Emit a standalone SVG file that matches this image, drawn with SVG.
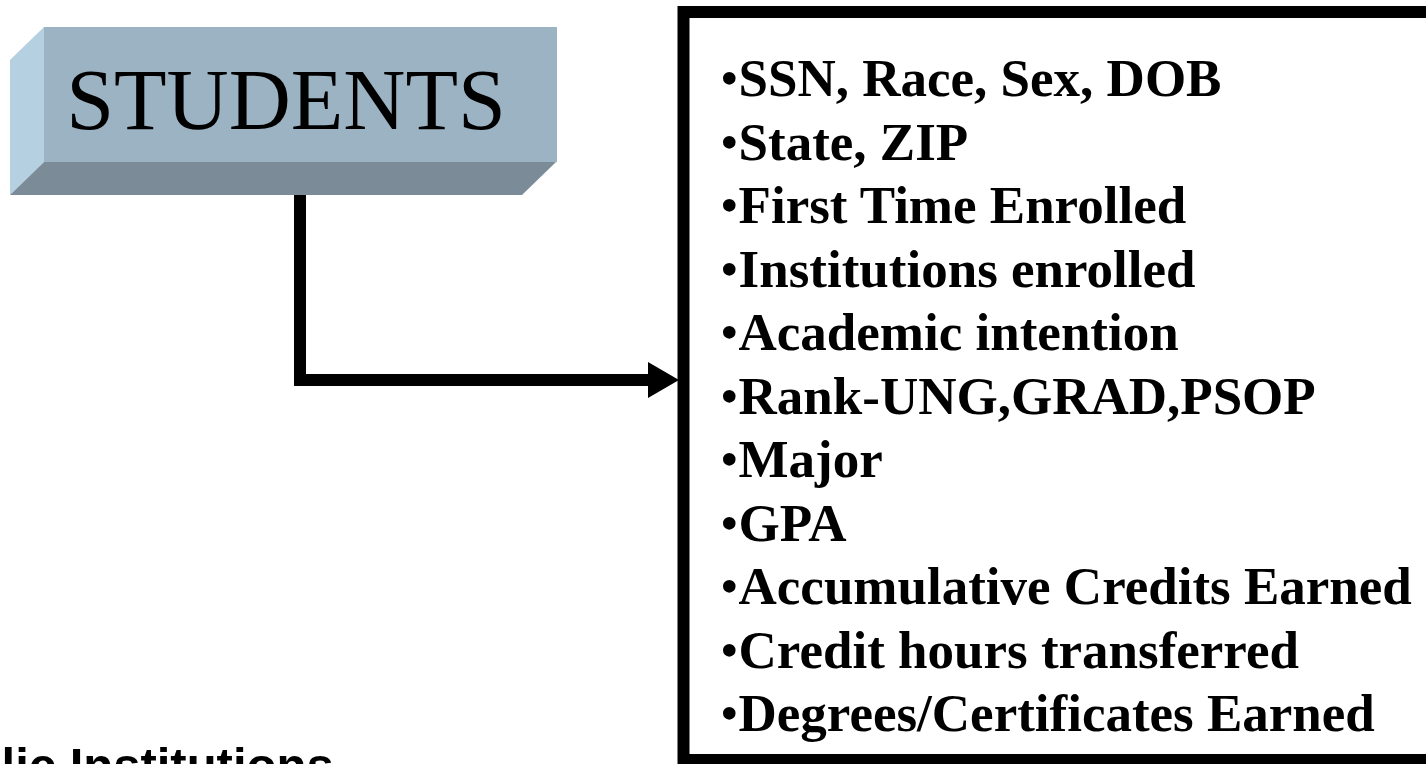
<svg xmlns="http://www.w3.org/2000/svg" width="1426" height="764" viewBox="0 0 1426 764">
<style>
.item{font-family:"Liberation Serif","Times New Roman",serif;font-weight:bold;font-size:53px;fill:#000}
.b{font-weight:normal}
.title{font-family:"Liberation Serif","Times New Roman",serif;font-size:86px;fill:#000}
.foot{font-family:"Liberation Sans",Arial,sans-serif;font-weight:bold;font-size:49px;fill:#000}
.conn{fill:none;stroke:#000;stroke-width:12}
</style>
<rect x="0" y="0" width="1426" height="764" fill="#fff"/>
<g id="connectors">
<path class="conn" d="M300,188 V380 H650"/>
<polygon points="648,362 679,380 648,398" fill="#000"/>
</g>
<g id="students">
<rect x="44" y="27" width="513" height="135" fill="#9cb3c3"/>
<polygon points="10,60 44,27 44,162 10,195" fill="#b5d0e0"/>
<polygon points="10,195 44,162 556,162 522,195" fill="#7b8b97"/>
<text class="title" x="286" y="129" text-anchor="middle">STUDENTS</text>
</g>
<g id="attributes">
<rect x="683.5" y="12" width="800" height="748" fill="none" stroke="#000" stroke-width="12"/>
<text class="item" x="720" y="96"><tspan class="b">•</tspan>SSN, Race, Sex, DOB</text>
<text class="item" x="720" y="159.5"><tspan class="b">•</tspan>State, ZIP</text>
<text class="item" x="720" y="223"><tspan class="b">•</tspan>First Time Enrolled</text>
<text class="item" x="720" y="286.5"><tspan class="b">•</tspan>Institutions enrolled</text>
<text class="item" x="720" y="350"><tspan class="b">•</tspan>Academic intention</text>
<text class="item" x="720" y="413.5"><tspan class="b">•</tspan>Rank-UNG,GRAD,PSOP</text>
<text class="item" x="720" y="477"><tspan class="b">•</tspan>Major</text>
<text class="item" x="720" y="540.5"><tspan class="b">•</tspan>GPA</text>
<text class="item" x="720" y="604"><tspan class="b">•</tspan>Accumulative Credits Earned</text>
<text class="item" x="720" y="667.5"><tspan class="b">•</tspan>Credit hours transferred</text>
<text class="item" x="720" y="731"><tspan class="b">•</tspan>Degrees/Certificates Earned</text>
</g>
<g id="footer">
<text class="foot" x="-91" y="782">Public Institutions</text>
</g>
</svg>
